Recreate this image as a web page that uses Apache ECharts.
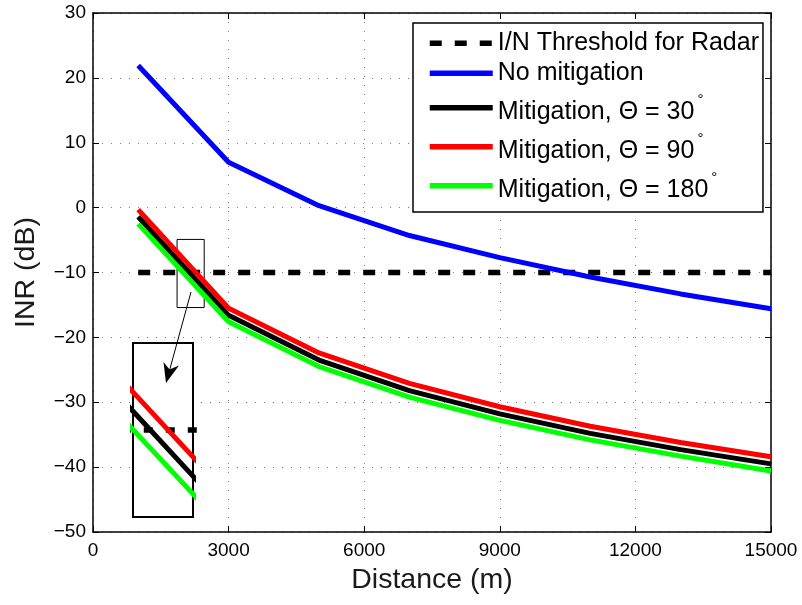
<!DOCTYPE html>
<html>
<head>
<meta charset="utf-8">
<script src="https://cdn.jsdelivr.net/npm/echarts@6/dist/echarts.min.js"></script>
<style>
  html, body { margin: 0; padding: 0; background: #fff; }
  #chart { width: 802px; height: 605px; }
</style>
</head>
<body>
<div id="chart"></div>
<script>
// Distance samples (m) and INR values (dB) for each scenario
const distance     = [1000, 3000, 5000, 7000, 9000, 11000, 13000, 15000];
const threshold    = [-10, -10, -10, -10, -10, -10, -10, -10];
const noMitigation = [21.9, 7.0, 0.3, -4.3, -7.7, -10.7, -13.3, -15.6];
const mitigation30 = [-1.4, -16.6, -23.5, -28.2, -31.8, -34.8, -37.3, -39.5];
const mitigation90 = [-0.3, -15.5, -22.4, -27.1, -30.7, -33.7, -36.2, -38.4];
const mitigation180 = [-2.5, -17.6, -24.5, -29.2, -32.8, -35.8, -38.3, -40.6];

// Axis ticks
const xTicks = [0, 3000, 6000, 9000, 12000, 15000];
const yTicks = [-50, -40, -30, -20, -10, 0, 10, 20, 30];

// Highlighted region on the main plot and the range of the magnified view
const boxX = [1860, 2460];
const boxY = [-15.4, -4.9];
const insetX = [1990, 2480];
const insetY = [-15, -5];

const FONT = '"Liberation Sans", Arial, Helvetica, sans-serif';

const seriesDefs = [
  { name: 'I/N Threshold for Radar', data: threshold, color: '#000000', dash: [12, 13] },
  { name: 'No mitigation', data: noMitigation, color: '#0000ff' },
  { name: 'Mitigation, Θ = 30', data: mitigation30, color: '#000000' },
  { name: 'Mitigation, Θ = 90', data: mitigation90, color: '#ff0000' },
  { name: 'Mitigation, Θ = 180', data: mitigation180, color: '#00ff00' }
];

function pairs(values) {
  return distance.map((d, i) => [d, values[i]]);
}

const series = [];
seriesDefs.forEach((s, k) => {
  const main = {
    name: s.name, type: 'line', xAxisIndex: 0, yAxisIndex: 0,
    data: pairs(s.data), symbol: 'none', silent: true, animation: false,
    z: 2 + k,
    lineStyle: { color: s.color, width: s.dash ? 5.5 : 5, type: s.dash || 'solid', cap: 'butt' },
    itemStyle: { color: s.color }
  };
  if (k === 0) {
    main.markArea = {
      silent: true,
      itemStyle: { color: 'rgba(0,0,0,0)', borderColor: '#000', borderWidth: 1 },
      data: [[{ coord: [boxX[0], boxY[1]] }, { coord: [boxX[1], boxY[0]] }]]
    };
  }
  series.push(main);
  series.push({
    name: s.name, type: 'line', xAxisIndex: 2, yAxisIndex: 2,
    data: pairs(s.data), symbol: 'none', silent: true, animation: false,
    clip: true, z: 20 + k,
    lineStyle: { color: s.color, width: s.dash ? 5.5 : 5, type: s.dash ? [9, 13] : 'solid', cap: 'butt' },
    itemStyle: { color: s.color }
  });
});

const gridLine = { show: true, lineStyle: { color: '#777', width: 1, type: [1, 8] } };
const axisLineStyle = { show: true, onZero: false, lineStyle: { color: '#000', width: 1.5 } };
const tickStyle = { show: true, inside: true, length: 6, lineStyle: { color: '#000', width: 1 } };

const xRange = { min: xTicks[0], max: xTicks[xTicks.length - 1], interval: xTicks[1] - xTicks[0] };
const yRange = { min: yTicks[0], max: yTicks[yTicks.length - 1], interval: yTicks[1] - yTicks[0] };

const chart = echarts.init(document.getElementById('chart'), null, { renderer: 'canvas' });

chart.setOption({
  backgroundColor: '#fff',
  animation: false,
  grid: [
    { left: 93, top: 13, width: 678, height: 519 },
    { left: 133, top: 343, width: 60, height: 174, show: true, backgroundColor: '#fff',
      borderColor: '#000', borderWidth: 2, z: 10 }
  ],
  legend: {
    orient: 'vertical', left: 413, top: 23,
    padding: [5.3, 4, 6.7, 14], itemGap: 0,
    itemWidth: 63, itemHeight: 8,
    backgroundColor: '#fff', borderColor: '#000', borderWidth: 1.5,
    selectedMode: false,
    itemStyle: { opacity: 0, borderWidth: 0 },
    lineStyle: { width: 5.5 },
    textStyle: {
      fontFamily: FONT, fontSize: 25, color: '#000', lineHeight: 30,
      rich: {
        m: { fontFamily: FONT, fontSize: 25, color: '#000', lineHeight: 30, padding: [9, 0, 0, 0] },
        s: { fontFamily: FONT, fontSize: 15, color: '#000', lineHeight: 15, padding: [4, 0, 20, 3] }
      }
    },
    formatter: name => name.indexOf('Θ') >= 0 ? '{m|' + name + '}{s|°}' : name,
    data: seriesDefs.map(s => s.name)
  },
  xAxis: [
    Object.assign({
      gridIndex: 0, type: 'value', position: 'bottom',
      axisLine: axisLineStyle, axisTick: tickStyle, splitLine: gridLine,
      axisLabel: { margin: 9, fontFamily: FONT, fontSize: 19, color: '#000',
                   formatter: v => String(v) },
      name: 'Distance (m)', nameLocation: 'middle', nameGap: 34,
      nameTextStyle: { fontFamily: FONT, fontSize: 28.5, color: '#1a1a1a' }
    }, xRange),
    Object.assign({
      gridIndex: 0, type: 'value', position: 'top',
      axisLine: axisLineStyle, axisTick: tickStyle, splitLine: { show: false },
      axisLabel: { show: false }
    }, xRange),
    { gridIndex: 1, type: 'value', min: insetX[0], max: insetX[1], show: false }
  ],
  yAxis: [
    Object.assign({
      gridIndex: 0, type: 'value', position: 'left',
      axisLine: axisLineStyle, axisTick: tickStyle, splitLine: gridLine,
      axisLabel: { margin: 7, fontFamily: FONT, fontSize: 19, color: '#000',
                   formatter: v => (v < 0 ? '\u2212' + Math.abs(v) : String(v)) },
      name: 'INR (dB)', nameLocation: 'middle', nameGap: 52,
      nameTextStyle: { fontFamily: FONT, fontSize: 28.5, color: '#1a1a1a' }
    }, yRange),
    Object.assign({
      gridIndex: 0, type: 'value', position: 'right',
      axisLine: axisLineStyle, axisTick: tickStyle, splitLine: { show: false },
      axisLabel: { show: false }
    }, yRange),
    { gridIndex: 1, type: 'value', min: insetY[0], max: insetY[1], show: false }
  ],
  graphic: [
    { type: 'line', z: 100, silent: true,
      shape: { x1: 191, y1: 292, x2: 168.5, y2: 374 },
      style: { stroke: '#000', lineWidth: 1 } },
    { type: 'polygon', z: 100, silent: true,
      shape: { points: [[166, 383], [163.5, 362], [169.5, 369.5], [179, 365.5]] },
      style: { fill: '#000' } }
  ],
  series: series
});
</script>
</body>
</html>
